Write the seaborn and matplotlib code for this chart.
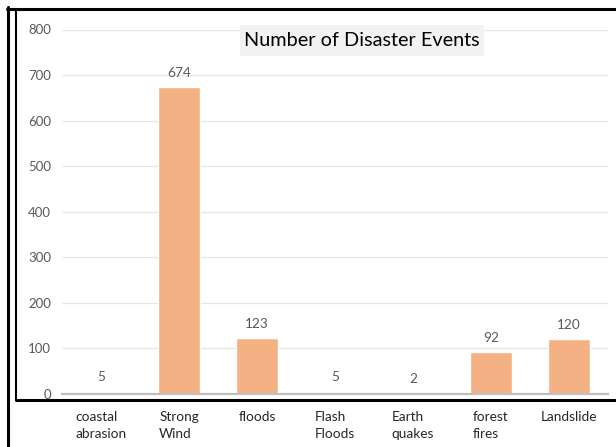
import numpy as np
import pandas as pd
import seaborn as sns
import matplotlib.pyplot as plt
from matplotlib.lines import Line2D
from matplotlib.patches import Rectangle

# data
categories = ['coastal\nabrasion', 'Strong\nWind', 'floods', 'Flash\nFloods',
              'Earth\nquakes', 'forest\nfires', 'Landslide']
events = [5, 674, 123, 5, 2, 92, 120]
y_ticks = [0, 100, 200, 300, 400, 500, 600, 700, 800]

df = pd.DataFrame({'category': categories, 'events': events})

sns.set_theme(style='white')
plt.rcParams['font.family'] = ['Lato', 'DejaVu Sans']

W, H = 616, 447
fig = plt.figure(figsize=(W / 100, H / 100), dpi=100)
ax = fig.add_axes([62 / W, 53 / H, 546 / W, 364.5 / H])

sns.barplot(data=df, x='category', y='events', color='#F4B183', saturation=1,
            width=0.55, ax=ax)

ax.set_xlim(-0.5, len(categories) - 0.5)
ax.set_ylim(0, 800)
ax.set_yticks(y_ticks)
ax.yaxis.grid(True, color='#E6E6E6', linewidth=0.9)
ax.set_axisbelow(True)
for s in ['top', 'right', 'left']:
    ax.spines[s].set_visible(False)
ax.spines['bottom'].set_color('#BFBFBF')
ax.spines['bottom'].set_linewidth(1.6)
ax.set_xlabel('')
ax.set_ylabel('')

ax.tick_params(axis='y', length=0, pad=8, labelsize=9.5, labelcolor='#595959')
ax.tick_params(axis='x', length=0, pad=12, labelsize=9.8, labelcolor='#262626')
for lab in ax.get_xticklabels():
    lab.set_multialignment('left')
    lab.set_linespacing(1.55)

ax.bar_label(ax.containers[0], labels=[str(v) for v in events], padding=6,
             fontsize=9.8, color='#595959')

# black frame lines around the screenshot
def fx(x):
    return x / W

def fy(y):
    return 1 - y / H

# title in a light gray box
fig.add_artist(Rectangle((fx(240), fy(56)), (484 - 240) / W, 31 / H, facecolor='#F2F2F2',
                         edgecolor='none', transform=fig.transFigure))
fig.text(fx(362), fy(41), 'Number of Disaster Events', ha='center', va='center',
         fontsize=14.3, color='black')

fig.add_artist(Line2D([fx(8), fx(8)], [fy(7), fy(447)], color='black', lw=2.2,
                      transform=fig.transFigure))
fig.add_artist(Line2D([fx(7), fx(616)], [fy(8.5), fy(8.5)], color='black', lw=2.2,
                      transform=fig.transFigure))
fig.add_artist(Line2D([fx(16), fx(16)], [fy(10), fy(400)], color='black', lw=1.5,
                      transform=fig.transFigure))
fig.add_artist(Line2D([fx(15.5), fx(616)], [fy(399.5), fy(399.5)], color='black', lw=2.2,
                      transform=fig.transFigure))

fig.savefig('out.png', dpi=100)
